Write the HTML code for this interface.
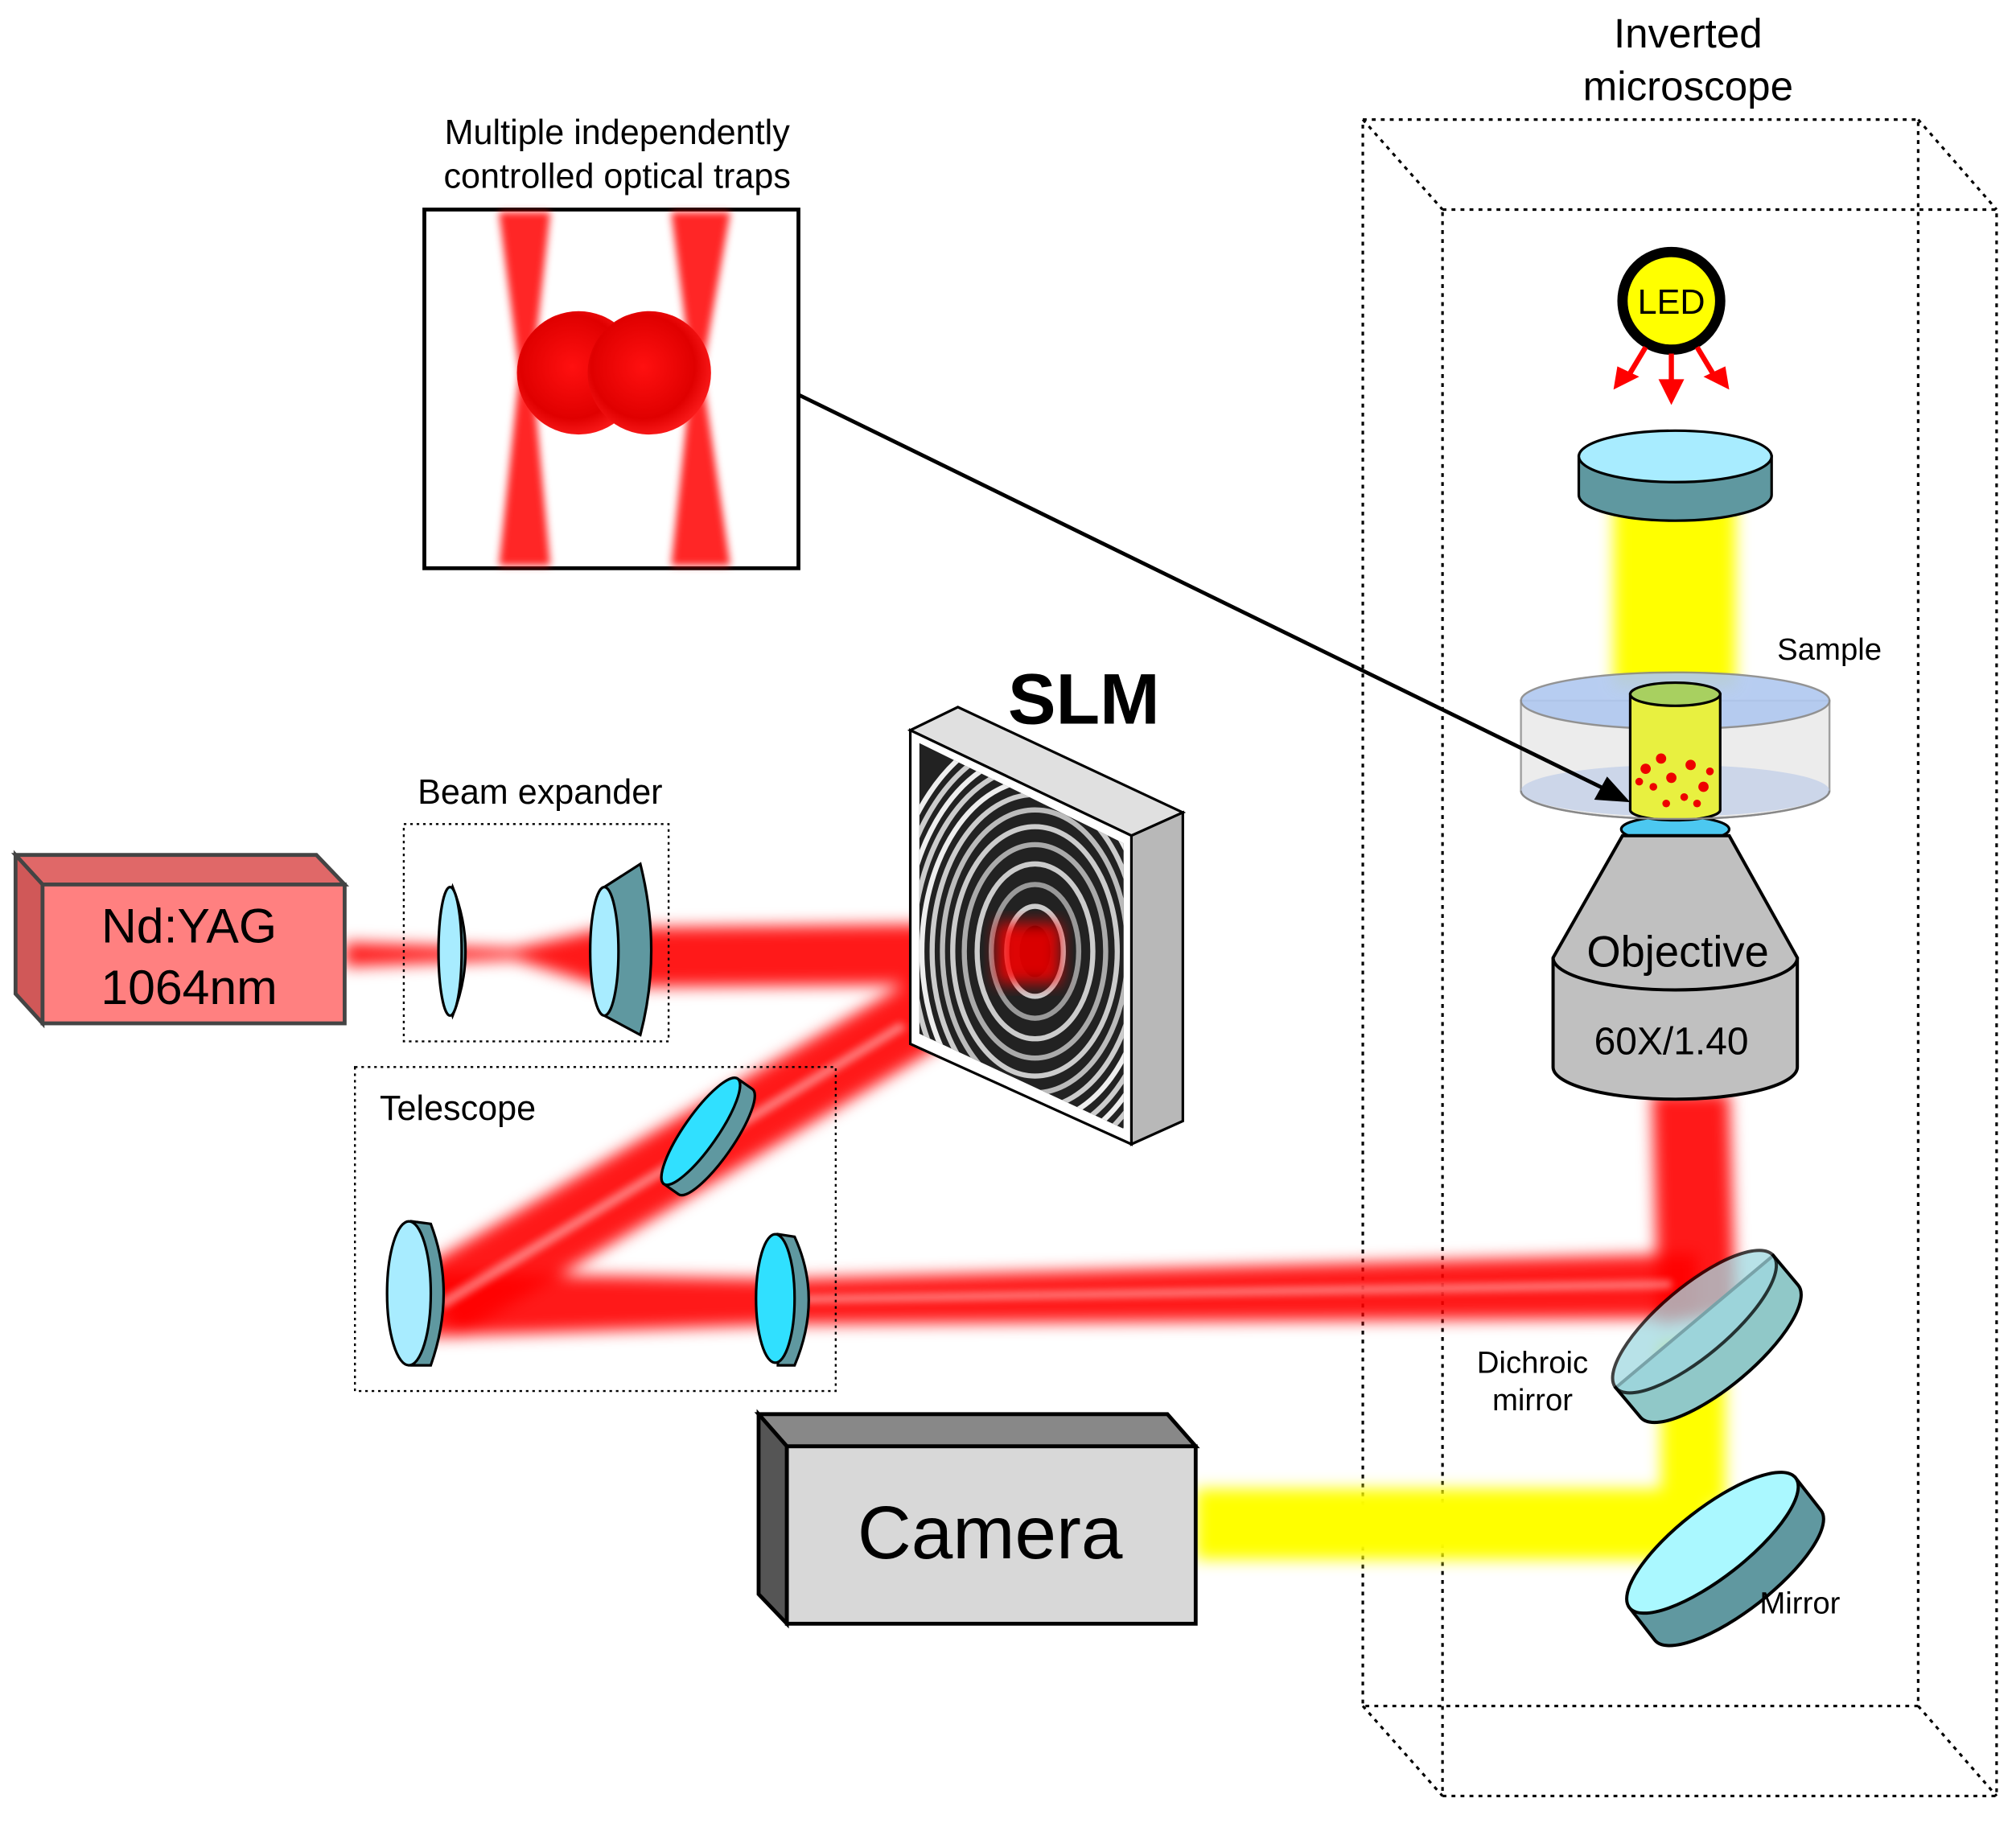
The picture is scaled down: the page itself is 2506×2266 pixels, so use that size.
<!DOCTYPE html>
<html><head><meta charset="utf-8"><style>
html,body{margin:0;padding:0;background:#fff}
svg{display:block}
text{font-family:"Liberation Sans",sans-serif;fill:#000}
</style></head><body>
<svg width="2506" height="2266" viewBox="0 0 1568 1418" xmlns="http://www.w3.org/2000/svg">
<defs>
<filter id="b6" x="-20%" y="-20%" width="140%" height="140%"><feGaussianBlur stdDeviation="6"/></filter>
<filter id="b3" x="-20%" y="-20%" width="140%" height="140%"><feGaussianBlur stdDeviation="3"/></filter>
<radialGradient id="sph" cx="0.45" cy="0.45" r="0.6"><stop offset="0" stop-color="#ff1010"/><stop offset="0.7" stop-color="#e00000"/><stop offset="1" stop-color="#ff2020"/></radialGradient>
</defs>

<!-- microscope dotted box -->
<g fill="none" stroke="#000" stroke-width="2" stroke-dasharray="3,4">
<rect x="1060" y="93" width="432" height="1234"/>
<rect x="1122" y="163" width="431" height="1234"/>
<line x1="1060" y1="93" x2="1122" y2="163"/><line x1="1492" y1="93" x2="1553" y2="163"/>
<line x1="1060" y1="1327" x2="1122" y2="1397"/><line x1="1492" y1="1327" x2="1553" y2="1397"/>
</g>
<text x="1313" y="37" font-size="32" text-anchor="middle">Inverted</text>
<text x="1313" y="78" font-size="32" text-anchor="middle">microscope</text>

<!-- beams -->
<g filter="url(#b6)" fill="#f00">
<polygon points="268,733 400,738 470,722 800,718 800,765 470,768 400,746 268,752" opacity="0.9"/>
<polygon points="790,715 820,760 355,1040 330,985" opacity="0.9"/>
<polygon points="330,990 612,995 1320,975 1320,1025 612,1030 330,1040" opacity="0.9"/>
<polygon points="1285,850 1345,850 1350,1020 1290,1030" opacity="0.9"/>
</g>
<g filter="url(#b3)" fill="#fff" opacity="0.45">
<polygon points="600,1008 1300,996 1300,1002 600,1014"/>
<polygon points="700,795 705,800 345,1018 340,1012"/>
</g>
<g filter="url(#b6)" fill="#ff0">
<rect x="1255" y="385" width="95" height="150"/>
<rect x="1292" y="1045" width="50" height="125"/>
<rect x="930" y="1158" width="400" height="55"/>
</g>

<!-- inset box -->
<rect x="330" y="163" width="291" height="279" fill="#fff" stroke="#000" stroke-width="3"/>
<g filter="url(#b3)" fill="#f00">
<polygon points="388,165 428,165 414,290 428,440 388,440 404,290" opacity="0.85"/>
<polygon points="522,165 568,165 546,290 568,440 522,440 538,290" opacity="0.85"/>
</g>
<circle cx="450" cy="290" r="48" fill="url(#sph)"/>
<circle cx="505" cy="290" r="48" fill="url(#sph)"/>
<text x="480" y="112" font-size="27" text-anchor="middle">Multiple independently</text>
<text x="480" y="146" font-size="27" text-anchor="middle">controlled optical traps</text>

<!-- LED -->
<circle cx="1300" cy="234" r="38" fill="#ff0" stroke="#000" stroke-width="8"/>
<text x="1300" y="244" font-size="27" text-anchor="middle">LED</text>
<g stroke="#f00" stroke-width="4" fill="#f00">
<line x1="1300" y1="275" x2="1300" y2="300"/><polygon points="1290,295 1310,295 1300,315" stroke="none"/>
<line x1="1280" y1="270" x2="1268" y2="290"/><polygon points="1258,285 1275,293 1255,303" stroke="none"/>
<line x1="1320" y1="270" x2="1332" y2="290"/><polygon points="1342,285 1325,293 1345,303" stroke="none"/>
</g>
<!-- condenser -->
<path d="M1228,355 v30 a75,20 0 0 0 150,0 v-30 z" fill="#5f98a0" stroke="#000" stroke-width="2"/>
<ellipse cx="1303" cy="355" rx="75" ry="20" fill="#a8ecff" stroke="#000" stroke-width="2"/>

<!-- sample -->
<path d="M1183,545 v70 a120,22 0 0 0 240,0 v-70 z" fill="#e8e8e8" opacity="0.8" stroke="#888" stroke-width="1.5"/>
<ellipse cx="1303" cy="545" rx="120" ry="22" fill="#b0c8f0" stroke="#888" stroke-width="1.5" opacity="0.9"/>
<ellipse cx="1303" cy="615" rx="120" ry="20" fill="#b8c8e8" opacity="0.6"/>
<ellipse cx="1303" cy="645" rx="42" ry="10" fill="#4cc8f0" stroke="#000" stroke-width="2"/>
<path d="M1268,540 v90 a35,8 0 0 0 70,0 v-90 z" fill="#e8f040" stroke="#000" stroke-width="2"/>
<ellipse cx="1303" cy="540" rx="35" ry="9" fill="#a8d060" stroke="#000" stroke-width="2"/>
<g fill="#e00">
<circle cx="1280" cy="598" r="4"/><circle cx="1292" cy="590" r="4"/><circle cx="1300" cy="605" r="4"/><circle cx="1315" cy="595" r="4"/><circle cx="1325" cy="612" r="4"/><circle cx="1330" cy="600" r="3"/><circle cx="1286" cy="612" r="3"/><circle cx="1310" cy="620" r="3"/><circle cx="1296" cy="625" r="3"/><circle cx="1320" cy="625" r="3"/><circle cx="1275" cy="608" r="3"/>
</g>
<path d="M1183,615 a120,22 0 0 0 240,0" fill="none" stroke="#888" stroke-width="1.5"/>
<text x="1423" y="513" font-size="24" text-anchor="middle">Sample</text>

<!-- connector arrow -->
<line x1="621" y1="307" x2="1255" y2="617" stroke="#000" stroke-width="3"/>
<polygon points="1268,624 1240,622 1250,604" fill="#000"/>

<!-- objective -->
<path d="M1208,745 L1262,650 L1345,650 L1398,745 v85 a95,25 0 0 1 -190,0 z" fill="#c0c0c0" stroke="#000" stroke-width="2.5"/>
<path d="M1208,745 a95,25 0 0 0 190,0" fill="none" stroke="#000" stroke-width="2.5"/>
<text x="1305" y="752" font-size="34" text-anchor="middle">Objective</text>
<text x="1300" y="820" font-size="30" text-anchor="middle">60X/1.40</text>

<!-- dichroic mirror -->
<g transform="translate(1318,1028) rotate(-40)">
<path d="M-80,0 v30 a80,27 0 0 0 160,0 v-30 z" fill="#90c8c8" stroke="#000" stroke-width="2.5"/>
<ellipse cx="0" cy="0" rx="80" ry="27" fill="#a0d8e0" stroke="#000" stroke-width="2.5" opacity="0.75"/>
</g>
<text x="1192" y="1068" font-size="24" text-anchor="middle">Dichroic</text>
<text x="1192" y="1097" font-size="24" text-anchor="middle">mirror</text>
<!-- mirror -->
<g transform="translate(1332,1200) rotate(-38)">
<path d="M-82,0 v32 a82,27 0 0 0 164,0 v-32 z" fill="#6098a0" stroke="#000" stroke-width="2.5"/>
<ellipse cx="0" cy="0" rx="82" ry="27" fill="#aaf8ff" stroke="#000" stroke-width="2.5"/>
</g>
<text x="1400" y="1255" font-size="24" text-anchor="middle">Mirror</text>

<!-- camera -->
<polygon points="590,1100 908,1100 930,1125 612,1125" fill="#888" stroke="#000" stroke-width="3"/>
<polygon points="590,1100 612,1125 612,1263 590,1240" fill="#555" stroke="#000" stroke-width="3"/>
<rect x="612" y="1125" width="318" height="138" fill="#d8d8d8" stroke="#000" stroke-width="3"/>
<text x="770" y="1212" font-size="58" text-anchor="middle">Camera</text>

<!-- laser -->
<polygon points="12,665 246,665 268,688 33,688" fill="#e06868" stroke="#444" stroke-width="3"/>
<polygon points="12,665 33,688 33,796 12,773" fill="#d05858" stroke="#444" stroke-width="3"/>
<rect x="33" y="688" width="235" height="108" fill="#ff8080" stroke="#444" stroke-width="3"/>
<text x="147" y="733" font-size="38" text-anchor="middle">Nd:YAG</text>
<text x="147" y="781" font-size="38" text-anchor="middle">1064nm</text>

<!-- beam expander -->
<rect x="314" y="641" width="206" height="169" fill="none" stroke="#000" stroke-width="1.5" stroke-dasharray="2,3"/>
<text x="420" y="625" font-size="27" text-anchor="middle">Beam expander</text>
<path d="M352,690 q20,50 0,100 q-14,-50 0,-100z" fill="#5f98a0" stroke="#000" stroke-width="2"/>
<ellipse cx="350" cy="740" rx="9" ry="50" fill="#a8ecff" stroke="#000" stroke-width="2"/>
<path d="M470,690 L498,672 Q515,740 498,805 L470,790 z" fill="#5f98a0" stroke="#000" stroke-width="2"/>
<ellipse cx="470" cy="740" rx="11" ry="50" fill="#a8ecff" stroke="#000" stroke-width="2"/>

<!-- telescope -->
<rect x="276" y="830" width="374" height="252" fill="none" stroke="#000" stroke-width="1.5" stroke-dasharray="2,3"/>
<text x="356" y="871" font-size="27" text-anchor="middle">Telescope</text>
<path d="M320,950 L335,952 Q355,1005 335,1062 L320,1062 z" fill="#5f98a0" stroke="#000" stroke-width="2"/>
<ellipse cx="318" cy="1006" rx="17" ry="56" fill="#a8ecff" stroke="#000" stroke-width="2"/>
<path d="M605,960 L618,962 Q640,1010 618,1062 L605,1062 z" fill="#5f98a0" stroke="#000" stroke-width="2"/>
<ellipse cx="603" cy="1010" rx="15" ry="50" fill="#30e0ff" stroke="#000" stroke-width="2"/>
<g transform="translate(545,880) rotate(-55)">
<path d="M-50,0 v14 a50,13 0 0 0 100,0 v-14 z" fill="#5f98a0" stroke="#000" stroke-width="2"/>
<ellipse cx="0" cy="0" rx="50" ry="13" fill="#30e0ff" stroke="#000" stroke-width="2"/>
</g>

<!-- SLM -->
<polygon points="708,568 745,550 920,632 880,650" fill="#e0e0e0" stroke="#000" stroke-width="2"/>
<polygon points="880,650 920,632 920,872 880,890" fill="#b8b8b8" stroke="#000" stroke-width="2"/>
<polygon points="708,568 880,650 880,890 708,812" fill="#fff" stroke="#000" stroke-width="2"/>
<clipPath id="slmc"><polygon points="715,578 874,656 874,878 715,804"/></clipPath>
<g clip-path="url(#slmc)" fill="none">
<rect x="700" y="560" width="190" height="340" fill="#222"/>
<g stroke="#ccc" stroke-width="4">
<ellipse cx="805" cy="740" rx="22" ry="35"/>
<ellipse cx="805" cy="740" rx="34" ry="52" stroke="#999"/>
<ellipse cx="805" cy="740" rx="45" ry="68"/>
<ellipse cx="805" cy="740" rx="55" ry="83" stroke="#aaa"/>
<ellipse cx="805" cy="740" rx="64" ry="97"/>
<ellipse cx="805" cy="740" rx="72" ry="110" stroke="#bbb"/>
<ellipse cx="805" cy="740" rx="80" ry="122"/>
<ellipse cx="805" cy="740" rx="88" ry="133" stroke="#eee"/>
<ellipse cx="805" cy="740" rx="95" ry="144"/>
<ellipse cx="805" cy="740" rx="102" ry="154" stroke="#eee"/>
<ellipse cx="805" cy="740" rx="109" ry="164"/>
<ellipse cx="805" cy="740" rx="116" ry="174" stroke="#eee"/>
</g>
<ellipse cx="805" cy="740" rx="12" ry="20" fill="#000"/>
</g>
<text x="843" y="563" font-size="56" font-weight="bold" text-anchor="middle">SLM</text>
<g filter="url(#b6)" fill="#f00" opacity="0.85"><polygon points="775,718 825,718 825,765 775,765"/></g>
</svg>
</body></html>
